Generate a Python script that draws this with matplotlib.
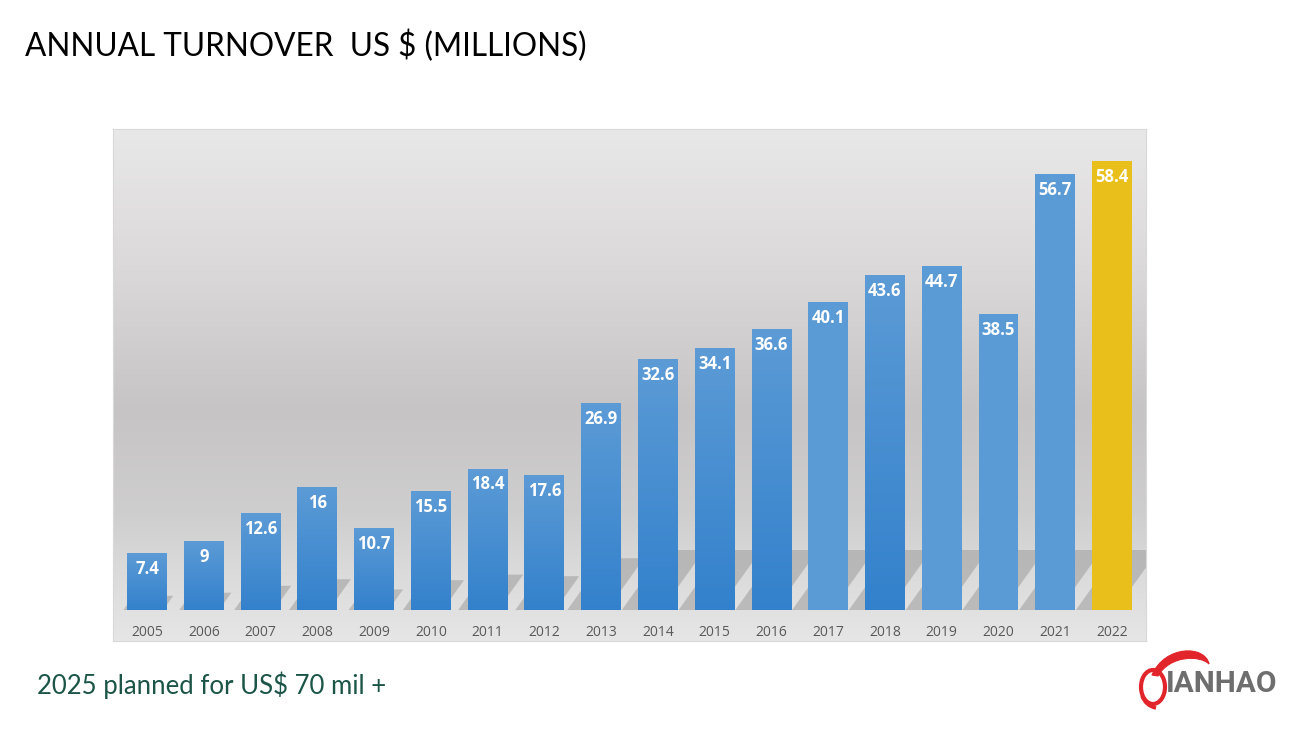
import numpy as np
import matplotlib
matplotlib.use("Agg")
import matplotlib.pyplot as plt
from matplotlib.colors import LinearSegmentedColormap
from matplotlib.patches import Polygon, Ellipse
from matplotlib.path import Path
from matplotlib.patches import PathPatch

# ---------------- data ----------------
years = ["2005", "2006", "2007", "2008", "2009", "2010", "2011", "2012", "2013",
         "2014", "2015", "2016", "2017", "2018", "2019", "2020", "2021", "2022"]
turnover = [7.4, 9, 12.6, 16, 10.7, 15.5, 18.4, 17.6, 26.9,
            32.6, 34.1, 36.6, 40.1, 43.6, 44.7, 38.5, 56.7, 58.4]
labels = ["7.4", "9", "12.6", "16", "10.7", "15.5", "18.4", "17.6", "26.9",
          "32.6", "34.1", "36.6", "40.1", "43.6", "44.7", "38.5", "56.7", "58.4"]
# bar style: 'g' gradient blue, 'f' flat blue, 'y' gold
bar_style = ["g", "g", "g", "g", "g", "g", "g", "g", "g",
             "g", "g", "g", "f", "g", "f", "f", "f", "y"]

title = "ANNUAL TURNOVER  US $ (MILLIONS)"
footnote = "2025 planned for US$ 70 mil +"
logo_text = "IANHAO"

W, H = 1300, 731
fig = plt.figure(figsize=(13, 7.31), dpi=100)
fig.patch.set_facecolor("white")

# ---------------- background panel ----------------
px_l, px_r, px_t, px_b, px_base = 113, 1146, 129, 641, 610
bg = fig.add_axes([px_l / W, (H - px_b) / H, (px_r - px_l) / W, (px_b - px_t) / H])
bg_cmap = LinearSegmentedColormap.from_list(
    "bg", [(0.0, "#e9e8e9"), (0.25, "#dcdadb"), (0.55, "#c6c4c5"),
           (0.75, "#cfcecf"), (0.86, "#dadada"), (1.0, "#e6e6e6")])
grad = np.linspace(0, 1, 256).reshape(-1, 1)
bg.imshow(grad, aspect="auto", cmap=bg_cmap, extent=[0, 1, 1, 0])
bg.set_xlim(0, 1); bg.set_ylim(1, 0)
bg.set_xticks([]); bg.set_yticks([])
for s in bg.spines.values():
    s.set_color("#d8d8d8"); s.set_linewidth(0.8)

# ---------------- main axes ----------------
ax = fig.add_axes([px_l / W, (H - px_base) / H, (px_r - px_l) / W, (px_base - px_t) / H])
ax.patch.set_alpha(0)
n = len(years)
x = np.arange(n)
ypu = 7.69
ymax = (px_base - px_t) / ypu
for s in ax.spines.values():
    s.set_visible(False)
ax.set_yticks([])
ax.set_xticks(x)
ax.set_xticklabels(years, fontsize=10, color="#595959", family="Open Sans")
ax.tick_params(axis="x", length=0, pad=10.5)

bw = 0.70
xpu = (px_r - px_l) / (n + 0.2)  # px per x unit

# floor shadows (diagonal, cast up-right)
slope = 1.4
for xi, h in zip(x, turnover):
    hpx = min(0.25 * h * ypu, 60)
    off = 0.27 * hpx / xpu
    dxu = (hpx / slope) / xpu
    dyu = hpx / ypu
    xl, xr = xi - bw / 2 - off, xi + bw / 2 - off
    poly = Polygon([(xl, 0), (xr, 0), (xr + dxu, dyu), (xl + dxu, dyu)],
                   closed=True, facecolor="#9c9c9c", alpha=0.55,
                   edgecolor="none", zorder=1)
    ax.add_patch(poly)

bars = ax.bar(x, turnover, width=bw, zorder=2, color="#5b9bd5", edgecolor="none")

blue_grad = LinearSegmentedColormap.from_list("bl", ["#3381cc", "#5c9bd6"])
for b, st in zip(bars, bar_style):
    if st == "y":
        b.set_facecolor("#e9bf1c")
    elif st == "f":
        b.set_facecolor("#5b9bd5")
    else:
        b.set_facecolor("none")
        xl = b.get_x(); hgt = b.get_height()
        im = ax.imshow(np.linspace(0, 1, 256).reshape(-1, 1), cmap=blue_grad,
                       aspect="auto", origin="lower",
                       extent=[xl, xl + b.get_width(), 0, hgt], zorder=2)
        im.set_clip_path(b)

ax.set_xlim(-0.6, n - 0.4)
ax.set_ylim(0, ymax)

for xi, h, lab in zip(x, turnover, labels):
    ax.annotate(lab, (xi, h), xytext=(0, -11.5), textcoords="offset points",
                ha="center", va="center", color="white", fontsize=12,
                fontweight="bold", family="Open Sans", zorder=5)

# ---------------- overlay for text and logo ----------------
ov = fig.add_axes([0, 0, 1, 1])
ov.set_xlim(0, W); ov.set_ylim(H, 0)
ov.axis("off")
ov.patch.set_alpha(0)

ov.text(25, 46, title, fontsize=22.7, family="Lato", color="black",
        ha="left", va="center")
ov.text(37, 685, footnote, fontsize=18.5, family="Lato", color="#1b5547",
        ha="left", va="center")

# logo
red = "#e2242b"
ov.add_patch(Ellipse((1153, 687), 24, 34, fill=False, edgecolor=red, linewidth=3.0))
# crescent swoosh
outer = [(1152, 675), (1165, 645), (1205, 645), (1209, 664)]
inner = [(1209, 664), (1200, 655), (1170, 655), (1158, 676)]
verts = outer + inner[1:] + [(1152, 675)]
codes = [Path.MOVETO, Path.CURVE4, Path.CURVE4, Path.CURVE4,
         Path.CURVE4, Path.CURVE4, Path.CURVE4, Path.CLOSEPOLY]
ov.add_patch(PathPatch(Path(verts, codes), facecolor=red, edgecolor=red, linewidth=0.8))
tail = Path([(1142, 696), (1146, 706), (1156, 708)], [Path.MOVETO, Path.CURVE3, Path.CURVE3])
ov.add_patch(PathPatch(tail, fill=False, edgecolor=red, linewidth=2.6))
ov.text(1166, 684, logo_text, fontsize=21.5, family="Roboto", fontweight="bold",
        color="#6e6e6e", ha="left", va="center")

fig.savefig("out.png", dpi=100)
